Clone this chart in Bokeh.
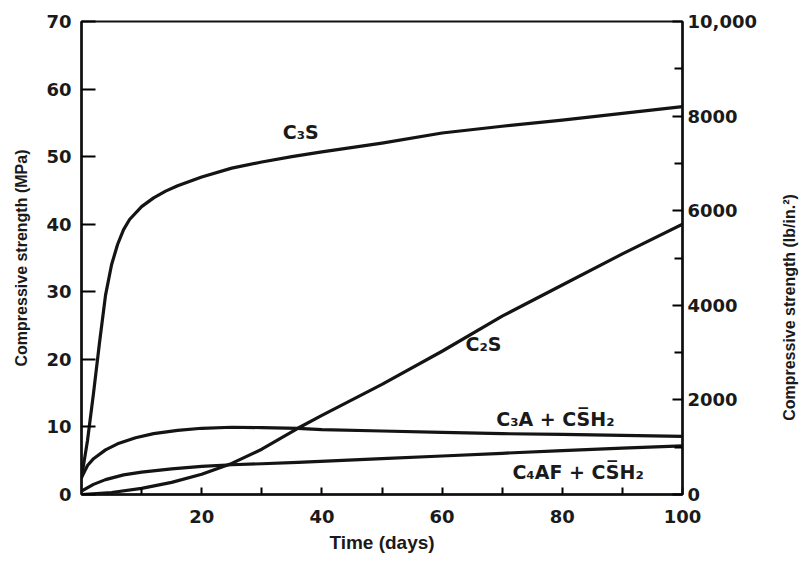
from math import pi
from bokeh.plotting import figure
from bokeh.layouts import row
from bokeh.models import Range1d, LinearAxis, FixedTicker
from bokeh.core.properties import value
from bokeh.embed import file_html
from bokeh.resources import INLINE

# ---- data (days, MPa) ----
c3s_days = [0, 1, 2, 3, 4, 5, 6, 7, 8, 10, 12, 14, 16, 20, 25, 30, 35, 40, 50, 60, 70, 80, 90, 100]
c3s_mpa = [2.5, 8, 15, 22.5, 29.5, 34, 37, 39.2, 40.7, 42.6, 43.9, 44.9, 45.7, 47, 48.3, 49.2, 50, 50.7, 52, 53.5, 54.5, 55.4, 56.4, 57.4]

c2s_days = [0, 5, 10, 15, 20, 25, 30, 36, 40, 50, 60, 70, 80, 90, 100]
c2s_mpa = [0, 0.3, 0.9, 1.8, 3.0, 4.6, 6.7, 9.8, 11.7, 16.3, 21.2, 26.4, 31.0, 35.6, 40.0]

c3a_days = [0, 1, 2, 4, 6, 9, 12, 16, 20, 25, 30, 36, 40, 50, 60, 70, 80, 90, 100]
c3a_mpa = [2.5, 4.3, 5.3, 6.6, 7.5, 8.4, 9.0, 9.5, 9.8, 9.95, 9.9, 9.8, 9.6, 9.4, 9.2, 9.0, 8.9, 8.75, 8.6]

c4af_days = [0, 2, 4, 7, 10, 15, 20, 25, 30, 36, 50, 60, 70, 80, 90, 100]
c4af_mpa = [0.5, 1.5, 2.2, 2.9, 3.3, 3.8, 4.15, 4.4, 4.55, 4.75, 5.3, 5.7, 6.1, 6.5, 6.85, 7.2]

series_names = ["C₃S", "C₂S", "C₃A + CS̅H₂", "C₄AF + CS̅H₂"]

x_ticks = [20, 40, 60, 80, 100]
x_minor_ticks = [10, 30, 50, 70, 90]
mpa_ticks = [0, 10, 20, 30, 40, 50, 60, 70]
psi_ticks = [0, 2000, 4000, 6000, 8000, 10000]
psi_minor_ticks = [1000, 3000, 5000, 7000, 9000]

TICK_FONT = "DejaVu Sans"
TITLE_FONT = "Liberation Sans"
INK = "#1a1a1a"

p = figure(frame_width=601, frame_height=473,
           x_range=Range1d(0, 100), y_range=Range1d(0, 70),
           output_backend="svg", toolbar_location=None,
           min_border_left=81, min_border_right=95,
           min_border_top=21, min_border_bottom=64)
p.extra_y_ranges = {"psi": Range1d(0, 10000)}
p.xgrid.visible = False
p.ygrid.visible = False
p.outline_line_color = "#111111"
p.outline_line_width = 2
p.background_fill_color = "white"
p.border_fill_color = "white"

# x axis
xa = p.xaxis[0]
xa.ticker = FixedTicker(ticks=x_ticks, minor_ticks=x_minor_ticks)
xa.axis_label = "Time (days)"
xa.axis_line_width = 2.5
xa.axis_line_color = "#111111"
xa.major_tick_in = 7
xa.major_tick_out = 0
xa.minor_tick_in = 7
xa.minor_tick_out = 0
xa.major_tick_line_width = 2
xa.minor_tick_line_width = 2
xa.major_label_text_font = TICK_FONT
xa.major_label_text_font_style = "bold"
xa.major_label_text_font_size = "18px"
xa.major_label_text_color = INK
xa.major_label_standoff = 15
xa.axis_label_text_font = TITLE_FONT
xa.axis_label_text_font_style = "bold"
xa.axis_label_text_font_size = "19px"
xa.axis_label_text_color = INK
xa.axis_label_standoff = 6

# left axis
ya = p.yaxis[0]
ya.ticker = FixedTicker(ticks=mpa_ticks)
ya.axis_label = "Compressive strength (MPa)"
ya.axis_line_width = 2.5
ya.axis_line_color = "#111111"
ya.major_tick_in = 14
ya.major_tick_out = 0
ya.major_tick_line_width = 2
ya.minor_tick_line_color = None
ya.major_label_text_font = TICK_FONT
ya.major_label_text_font_style = "bold"
ya.major_label_text_font_size = "18px"
ya.major_label_text_color = INK
ya.major_label_standoff = 10
ya.axis_label_text_font = TITLE_FONT
ya.axis_label_text_font_style = "bold"
ya.axis_label_text_font_size = "16px"
ya.axis_label_text_color = INK
ya.axis_label_standoff = 13

# right axis
ra = LinearAxis(y_range_name="psi",
                ticker=FixedTicker(ticks=psi_ticks, minor_ticks=psi_minor_ticks),
                major_label_overrides={10000: "10,000"})
ra.axis_line_width = 2.5
ra.axis_line_color = "#111111"
ra.major_tick_in = 10
ra.major_tick_out = 0
ra.minor_tick_in = 8
ra.minor_tick_out = 0
ra.major_tick_line_width = 2
ra.minor_tick_line_width = 2
ra.major_label_text_font = TICK_FONT
ra.major_label_text_font_style = "bold"
ra.major_label_text_font_size = "18px"
ra.major_label_text_color = INK
ra.major_label_standoff = 5
p.add_layout(ra, "right")

# curves
line_kw = dict(line_color="#141414", line_width=3.2, line_join="round", line_cap="round")
p.line(c3s_days, c3s_mpa, **line_kw)
p.line(c2s_days, c2s_mpa, **line_kw)
p.line(c3a_days, c3a_mpa, **line_kw)
p.line(c4af_days, c4af_mpa, **line_kw)

# curve labels
lab_kw = dict(text_font=value(TICK_FONT), text_font_style="bold", text_font_size="19px",
              text_color=INK, text_align="left", text_baseline="middle")
p.text(x=[33.5], y=[53.7], text=[series_names[0]], **lab_kw)
p.text(x=[63.9], y=[22.2], text=[series_names[1]], **lab_kw)
p.text(x=[69.0], y=[11.2], text=[series_names[2]], **lab_kw)
p.text(x=[71.7], y=[3.4], text=[series_names[3]], **lab_kw)

# narrow strip to the right holding the right-hand axis title
p2 = figure(frame_width=23, frame_height=558,
            x_range=Range1d(0, 23), y_range=Range1d(0, 558),
            x_axis_type=None, y_axis_type=None,
            output_backend="svg", toolbar_location=None,
            min_border=0)
p2.title.visible = False
p2.xgrid.visible = False
p2.ygrid.visible = False
p2.outline_line_color = None
p2.background_fill_color = "white"
p2.border_fill_color = "white"
p2.text(x=[12], y=[272], text=["Compressive strength (lb/in.²)"], angle=pi / 2,
        text_align="center", text_baseline="middle",
        text_font=value(TITLE_FONT), text_font_style="bold",
        text_font_size="16px", text_color=INK)

layout = row(p, p2)
open("out.html", "w").write(file_html(layout, INLINE))
